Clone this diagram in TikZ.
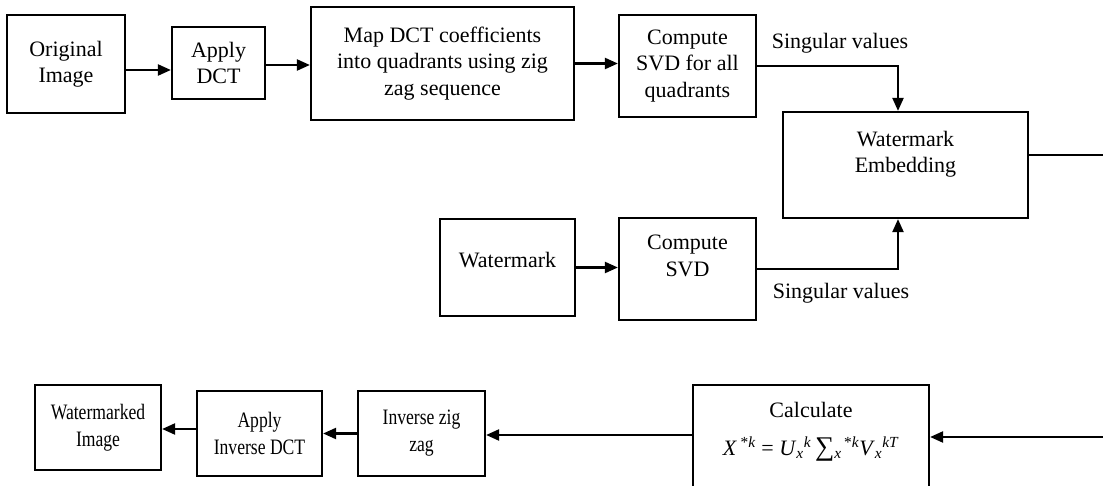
\documentclass[tikz,border=0pt]{standalone}
\usepackage{fontspec}
\setmainfont{Liberation Serif}
\newfontfamily\narrowserif[FakeStretch=0.8]{Liberation Serif}
\usetikzlibrary{arrows.meta,calc}
\begin{document}
\begin{tikzpicture}[x=1pt,y=-1pt,
  box/.style={draw, line width=2.2pt, inner sep=0pt, align=center, font=\fontsize{22}{26.5}\selectfont},
  narrow/.style={font=\narrowserif\fontsize{22}{27}\selectfont},
  arr/.style={line width=2.2pt, -{Triangle[length=13pt,width=11pt]}},
  lbl/.style={font=\fontsize{22}{26.5}\selectfont, inner sep=0pt}]
\useasboundingbox (0,0) rectangle (1103,486);
\clip (0,0) rectangle (1103,486);
% top row
\node[box, minimum width=118pt, minimum height=98pt] (orig) at (66,64) {Original\\Image};
\node[box, minimum width=93pt, minimum height=72pt] (dct) at (218.5,63) {Apply\\DCT};
\node[box, minimum width=263pt, minimum height=113pt] (map) at (442.5,63.5) {Map DCT coefficients\\into quadrants using zig\\zag sequence};
\node[box, minimum width=137pt, minimum height=102pt] (svd1) at (687.5,66) {Compute\\SVD for all\\quadrants};
\node[box, minimum width=245pt, minimum height=106pt] (we) at (905.5,165) {Watermark\\Embedding\\\mbox{}};
% middle row
\node[box, minimum width=135pt, minimum height=97pt] (wm) at (507.5,267.5) {Watermark\\[-11pt]\mbox{}};
\node[box, minimum width=137pt, minimum height=102pt] (svd2) at (687.5,269) {Compute\\SVD\\\mbox{}};
% bottom row
\node[box, minimum width=236pt, minimum height=115pt] (calc) at (811,442.5)
  {Calculate\\[11pt]\textit{X}\,\textsuperscript{*\textit{k}} = \textit{U}\textsubscript{\textit{x}}\textsuperscript{\textit{k}}\,{\fontsize{27}{27}\selectfont ∑}\textsubscript{\textit{x}}\textsuperscript{\,*\textit{k}}\textit{V}\textsubscript{\textit{x}}\textsuperscript{\textit{kT}}\\[1pt]\mbox{}};
\node[box, narrow, minimum width=127pt, minimum height=85pt] (izz) at (421.5,433.5) {Inverse zig\\zag};
\node[box, narrow, minimum width=125pt, minimum height=85pt] (aidct) at (259.5,433.5) {Apply\\Inverse DCT};
\node[box, narrow, minimum width=126pt, minimum height=85pt] (wmi) at (98,427.5) {Watermarked\\Image};
% labels
\node[lbl] (sv1) at (840,43) {Singular values};
\node[lbl] (sv2) at (841,293) {Singular values};
\coordinate (ret) at (1112,300);
% connectors
\draw[arr] ([yshift=-6pt]orig.east) -- ([yshift=-6pt]orig.east -| dct.west);
\draw[arr] ([yshift=-2pt]dct.east) -- ([yshift=-2pt]dct.east -| map.west);
\draw[arr] (map.east) -- (map.east -| svd1.west);
\draw[arr] (svd1.east) -| ([xshift=-7.5pt]we.north);
\draw[arr] (wm.east) -- (wm.east -| svd2.west);
\draw[arr] (svd2.east) -| ([xshift=-7.5pt]we.south);
\draw[arr] ([yshift=10pt]we.east) -| (ret) |- ([yshift=5.5pt]calc.east);
\draw[arr] ([yshift=7.5pt]calc.west) -- ([yshift=7.5pt]calc.west -| izz.east);
\draw[arr] (izz.west) -- (izz.west -| aidct.east);
\draw[arr] ([yshift=4.5pt]aidct.west) -- ([yshift=4.5pt]aidct.west -| wmi.east);
\end{tikzpicture}
\end{document}
